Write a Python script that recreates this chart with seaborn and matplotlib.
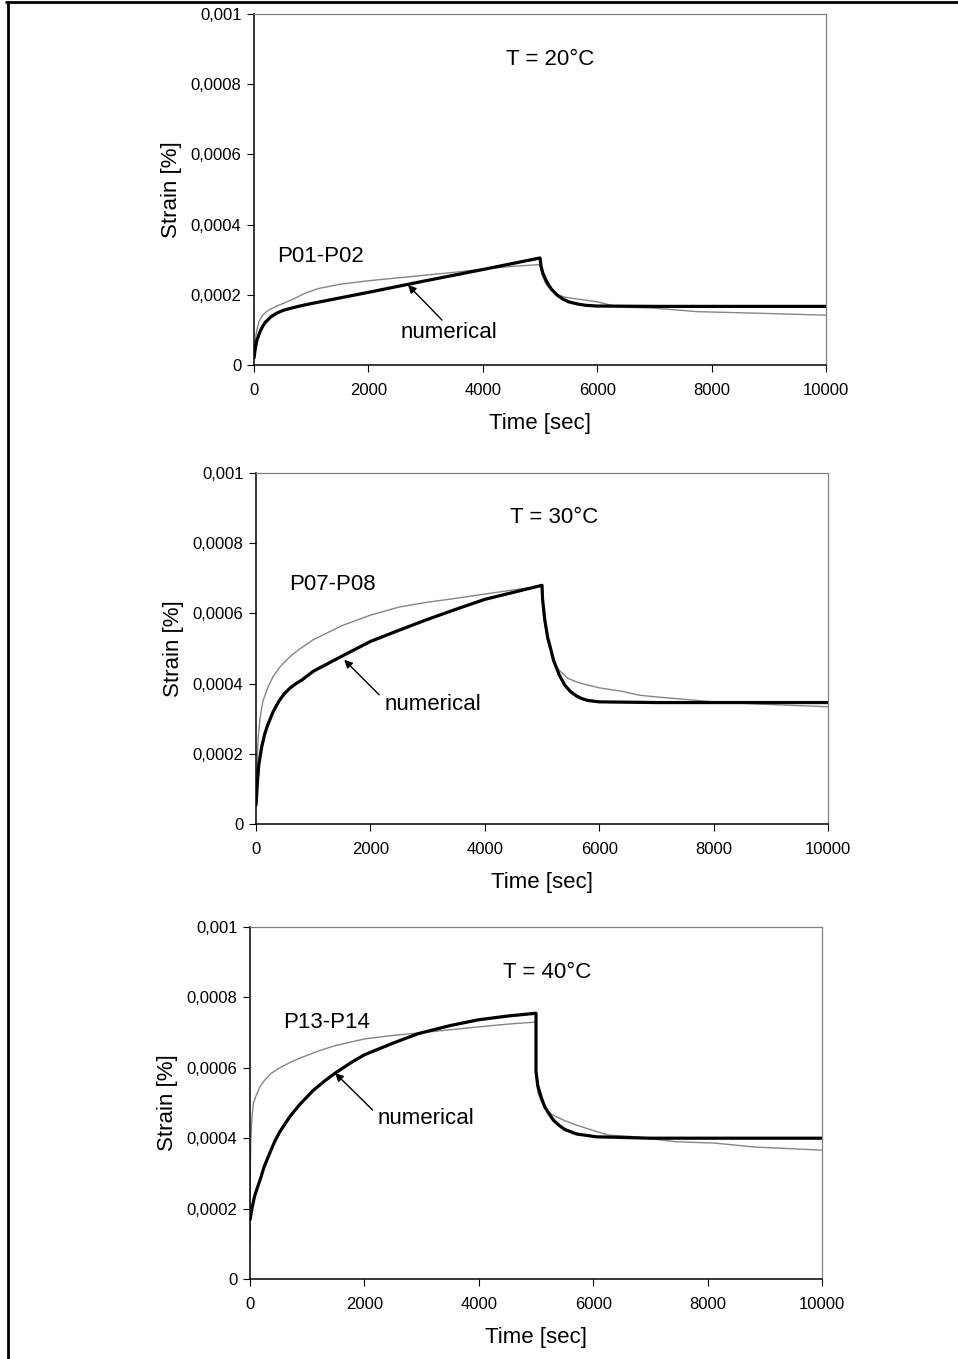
import numpy as np
import pandas as pd
import seaborn as sns
import matplotlib.pyplot as plt
from matplotlib.lines import Line2D
from matplotlib.ticker import FixedLocator, FixedFormatter

# ---------------- data ----------------
temps = ["T = 20°C", "T = 30°C", "T = 40°C"]
specimens = ["P01-P02", "P07-P08", "P13-P14"]

# T = 20 C
t20_num = [0, 25, 50, 100, 150, 200, 300, 400, 500, 600, 800, 1000, 2000, 3000, 4000, 5000,
           5020, 5050, 5100, 5150, 5200, 5300, 5400, 5500, 5650, 5800, 6000, 7000, 10000]
s20_num = [0.00002, 0.00005, 0.00007, 0.000093, 0.00011, 0.000122, 0.000138, 0.000148, 0.000155,
           0.00016, 0.000168, 0.000175, 0.000207, 0.00024, 0.000272, 0.000305,
           0.00028, 0.000262, 0.000243, 0.000228, 0.000216, 0.000199, 0.000188, 0.00018,
           0.000174, 0.00017, 0.000168, 0.000167, 0.000167]
t20_exp = [0, 20, 50, 90, 150, 250, 400, 550, 700, 900, 1130, 1500, 2000, 2500, 3000, 3500,
           4000, 4500, 5000,
           5030, 5100, 5200, 5300, 5450, 5650, 6000, 6200, 6400, 7000, 7750, 8700, 10000]
s20_exp = [0.00003, 0.00007, 0.0001, 0.000125, 0.000142, 0.000156, 0.000168, 0.000178, 0.000189,
           0.000205, 0.000218, 0.00023, 0.00024, 0.000248, 0.000256, 0.000264,
           0.000273, 0.000281, 0.000286,
           0.00026, 0.000232, 0.000212, 0.0002, 0.000193, 0.000188, 0.00018, 0.000172, 0.000165,
           0.000162, 0.000152, 0.000148, 0.000142]

# T = 30 C
t30_num = [0, 25, 50, 100, 150, 200, 300, 400, 500, 600, 700, 800, 1000, 1500, 2000, 2500,
           3000, 3500, 4000, 4500, 5000,
           5010, 5050, 5100, 5150, 5200, 5300, 5400, 5500, 5600, 5700, 5800, 6000, 7000, 10000]
s30_num = [0.000054, 0.00012, 0.00017, 0.00022, 0.000255, 0.00028, 0.00032, 0.00035, 0.000372,
           0.000388, 0.0004, 0.00041, 0.000435, 0.000478, 0.00052, 0.000552,
           0.000583, 0.000612, 0.00064, 0.00066, 0.00068,
           0.00064, 0.00058, 0.00053, 0.0005, 0.000467, 0.000425, 0.000395, 0.000377, 0.000365,
           0.000357, 0.000352, 0.000348, 0.000346, 0.000346]
t30_exp = [0, 10, 20, 40, 70, 120, 210, 300, 420, 600, 760, 1000, 1500, 2000, 2500, 3000,
           3500, 4000, 4500, 5000,
           5020, 5100, 5190, 5250, 5300, 5450, 5650, 6000, 6400, 6700, 7000, 7360, 8000, 8750,
           10000]
s30_exp = [0.00005, 0.00012, 0.00018, 0.00025, 0.0003, 0.00035, 0.00039, 0.00042, 0.000448,
           0.000478, 0.000498, 0.000525, 0.000565, 0.000595, 0.000618, 0.000632,
           0.000643, 0.000655, 0.000667, 0.000678,
           0.0006, 0.00053, 0.00048, 0.00045, 0.000438, 0.000415, 0.000402, 0.000388, 0.000378,
           0.000367, 0.000362, 0.000357, 0.000348, 0.000342, 0.000334]

# T = 40 C
t40_num = [0, 40, 80, 130, 173, 250, 346, 430, 520, 700, 865, 1100, 1300, 1490, 1750, 2000,
           2500, 2940, 3500, 3980, 4500, 5000,
           5000, 5030, 5090, 5150, 5225, 5300, 5400, 5500, 5710, 6050, 7000, 10000]
s40_num = [0.000168, 0.000205, 0.000235, 0.00026, 0.00028, 0.00032, 0.000358, 0.00039, 0.000418,
           0.000462, 0.000495, 0.000535, 0.000562, 0.000585, 0.000613, 0.000637,
           0.00067, 0.000697, 0.00072, 0.000736, 0.000747, 0.000755,
           0.00059, 0.00055, 0.000517, 0.00049, 0.00047, 0.000452, 0.000437, 0.000425, 0.000412,
           0.000404, 0.0004, 0.0004]
t40_exp = [0, 5, 15, 35, 60, 104, 170, 242, 350, 520, 700, 865, 1200, 1490, 2000, 2500, 2940,
           3500, 3980, 4500, 5000,
           5000, 5030, 5090, 5200, 5290, 5500, 5710, 6000, 6260, 6750, 7440, 8130, 8820, 10000]
s40_exp = [0.0001, 0.0003, 0.0004, 0.00046, 0.0005, 0.00052, 0.000545, 0.000562, 0.000582,
           0.0006, 0.000615, 0.000627, 0.000648, 0.000663, 0.000682, 0.000692, 0.000699,
           0.000708, 0.000716, 0.000724, 0.00073,
           0.00059, 0.00053, 0.000505, 0.000478, 0.000466, 0.00045, 0.000437, 0.000422,
           0.000409, 0.000404, 0.00039, 0.000386, 0.000375, 0.000366]

y_ticks = [0, 0.0002, 0.0004, 0.0006, 0.0008, 0.001]
y_ticklabels = ["0", "0,0002", "0,0004", "0,0006", "0,0008", "0,001"]
x_ticks = [0, 2000, 4000, 6000, 8000, 10000]

# text positions (data coords): temp label, specimen label, "numerical", arrow head, arrow tail
label_pos = [
    dict(temp=(5175, 0.000855), spec=(1168, 0.000293), num=(3409, 0.000077),
         head=(2692, 0.000228), tail=(3287, 0.000128)),
    dict(temp=(5208, 0.000858), spec=(1333, 0.000667), num=(3090, 0.000325),
         head=(1542, 0.000468), tail=(2153, 0.000368)),
    dict(temp=(5190, 0.000855), spec=(1336, 0.000713), num=(3080, 0.00044),
         head=(1488, 0.000585), tail=(2145, 0.00048)),
]

series = [(t20_exp, s20_exp, t20_num, s20_num),
          (t30_exp, s30_exp, t30_num, s30_num),
          (t40_exp, s40_exp, t40_num, s40_num)]

# axes rectangles in pixels (left, top, right, bottom)
W, H = 958, 1359
boxes = [(254, 14, 826, 365), (256, 473, 828, 824), (250, 927, 822, 1279)]

sns.set_theme(style="white")
plt.rcParams['font.family'] = ['Liberation Sans', 'DejaVu Sans']
plt.rcParams['text.color'] = 'black'
plt.rcParams['axes.labelcolor'] = 'black'
plt.rcParams['xtick.color'] = 'black'
plt.rcParams['ytick.color'] = 'black'

fig = plt.figure(figsize=(W / 100, H / 100), dpi=100)
fig.patch.set_facecolor("white")

for i, (box, (te, se, tn, sn)) in enumerate(zip(boxes, series)):
    x0, y0, x1, y1 = box
    ax = fig.add_axes([x0 / W, 1 - y1 / H, (x1 - x0) / W, (y1 - y0) / H])
    df_e = pd.DataFrame({"t": te, "s": se})
    df_n = pd.DataFrame({"t": tn, "s": sn})
    sns.lineplot(data=df_e, x="t", y="s", ax=ax, color="#858585", linewidth=1.0,
                 estimator=None, sort=False)
    sns.lineplot(data=df_n, x="t", y="s", ax=ax, color="black", linewidth=2.3,
                 estimator=None, sort=False)
    ax.set_xlim(0, 10000)
    ax.set_ylim(0, 0.001)
    ax.yaxis.set_major_locator(FixedLocator(y_ticks))
    ax.yaxis.set_major_formatter(FixedFormatter(y_ticklabels))
    ax.set_xticks(x_ticks)
    ax.set_xticklabels([str(v) for v in x_ticks])
    ax.tick_params(axis="both", direction="out", length=5, width=0.8, color="black",
                   labelsize=12, labelcolor="black")
    ax.tick_params(axis="x", pad=8, bottom=True)
    ax.tick_params(axis="y", pad=4, left=True)
    for side in ["left", "bottom"]:
        ax.spines[side].set_color("black")
        ax.spines[side].set_linewidth(1.1)
    for side in ["top", "right"]:
        ax.spines[side].set_color("#808080")
        ax.spines[side].set_linewidth(0.9)
    ax.set_xlabel("Time [sec]", fontsize=16, labelpad=11)
    ax.set_ylabel("Strain [%]", fontsize=16, labelpad=6)

    p = label_pos[i]
    ax.text(*p["temp"], temps[i], fontsize=16, ha="center", va="baseline")
    ax.text(*p["spec"], specimens[i], fontsize=16, ha="center", va="baseline")
    ax.text(*p["num"], "numerical", fontsize=16, ha="center", va="baseline")
    ax.annotate("", xy=p["head"], xytext=p["tail"],
                arrowprops=dict(arrowstyle="-|>", color="black", lw=1.0,
                                mutation_scale=12, shrinkA=0, shrinkB=0))

# frame lines at top and left edge of the page
fig.add_artist(Line2D([6 / W, 1], [1 - 1.5 / H, 1 - 1.5 / H], transform=fig.transFigure,
                      color="black", linewidth=2))
fig.add_artist(Line2D([7.5 / W, 7.5 / W], [0, 1 - 1.5 / H], transform=fig.transFigure,
                      color="black", linewidth=2))

fig.savefig("out.png", dpi=100, facecolor="white")
